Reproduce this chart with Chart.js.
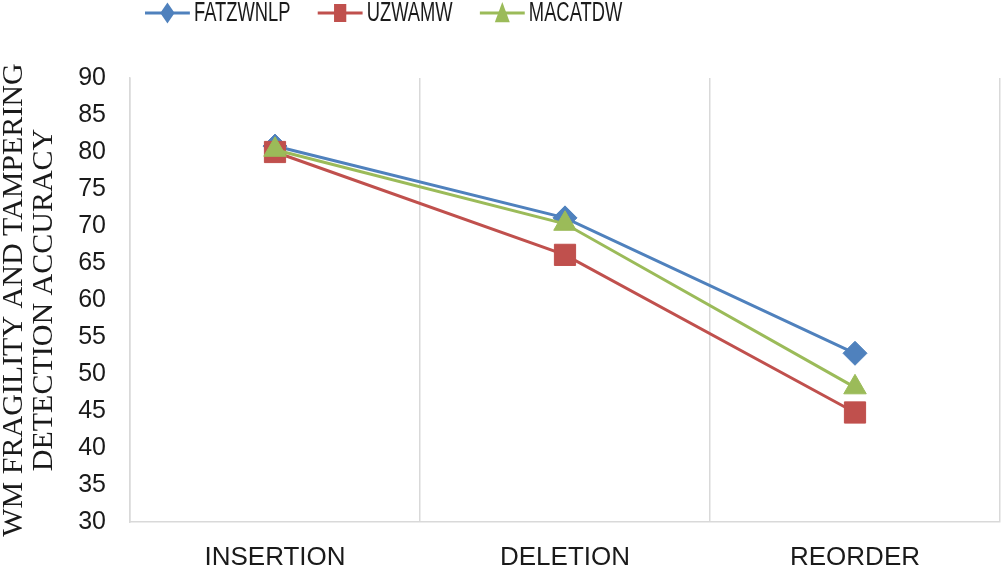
<!DOCTYPE html>
<html>
<head>
<meta charset="utf-8">
<script src="https://cdn.jsdelivr.net/npm/chart.js@4.4.1/dist/chart.umd.min.js"></script>
<style>
  html, body { margin: 0; padding: 0; background: #fff; overflow: hidden; }
  #wrap { width: 1001px; height: 571px; }
</style>
</head>
<body>
<div id="wrap"><canvas id="chart"></canvas></div>
<script>
const categories = ["INSERTION", "DELETION", "REORDER"];
const fatzwnlp = [80.8, 71.1, 52.8];
const uzwamw = [80.0, 66.1, 44.8];
const macatdw = [80.3, 70.3, 48.2];
const yTitle = ["WM FRAGILITY AND TAMPERING", "DETECTION ACCURACY"];

const BLUE = "#4f81bd", RED = "#c0504d", GREEN = "#9bbb59";
const SANS = "'Liberation Sans', Arial, sans-serif";
const TEXT = "#1a1a1a";

function marker(g, style, x, y, r) {
  g.beginPath();
  if (style === "rectRot") {
    g.moveTo(x, y - r); g.lineTo(x + r, y); g.lineTo(x, y + r); g.lineTo(x - r, y);
  } else if (style === "rect") {
    g.rect(x - r, y - r, 2 * r, 2 * r);
  } else {
    g.moveTo(x, y - r); g.lineTo(x + r, y + r * 0.85); g.lineTo(x - r, y + r * 0.85);
  }
  g.closePath(); g.fill();
}

// the reference legend is squeezed sideways: line + marker + text, drawn narrow
const lineLegend = {
  id: "lineLegend",
  afterDraw(chart) {
    const g = chart.ctx;
    const squeeze = 0.68, sw = 66, gapText = 6, gapItem = 40;
    const sizes = { rectRot: 10.5, rect: 9, triangle: 11 };
    let x = 145 / squeeze;
    const y = 13;
    g.save();
    g.scale(squeeze, 1);
    g.font = "27px " + SANS;
    g.textBaseline = "middle";
    chart.data.datasets.forEach(ds => {
      g.strokeStyle = ds.borderColor; g.fillStyle = ds.borderColor; g.lineWidth = 3;
      g.beginPath(); g.moveTo(x, y); g.lineTo(x + sw, y); g.stroke();
      marker(g, ds.pointStyle, x + sw / 2, y, sizes[ds.pointStyle]);
      x += sw + gapText;
      g.fillStyle = TEXT;
      g.fillText(ds.label, x, y + 1);
      x += g.measureText(ds.label).width + gapItem;
    });
    g.restore();
  }
};

function series(label, data, color, style, r, order) {
  return {
    label, data, order,
    borderColor: color, backgroundColor: color,
    borderWidth: 3,
    pointStyle: style, pointRadius: r, pointHoverRadius: r,
    pointBorderWidth: 1, pointBorderColor: color, pointBackgroundColor: color,
    tension: 0
  };
}

new Chart(document.getElementById("chart"), {
  type: "line",
  data: {
    labels: categories,
    datasets: [
      series("FATZWNLP", fatzwnlp, BLUE, "rectRot", 12, 3),
      series("UZWAMW", uzwamw, RED, "rect", 15, 2),
      series("MACATDW", macatdw, GREEN, "triangle", 13, 1)
    ]
  },
  plugins: [lineLegend],
  options: {
    responsive: true,
    maintainAspectRatio: false,
    animation: false,
    layout: { autoPadding: false, padding: { top: 78, right: 1, bottom: 0, left: 0 } },
    plugins: {
      tooltip: { enabled: false },
      legend: { display: false }
    },
    scales: {
      x: {
        offset: true,
        grid: { offset: true, color: "#d9d9d9", lineWidth: 1.5, drawTicks: false },
        border: { color: "#d9d9d9", width: 1.5 },
        ticks: { padding: 20, color: TEXT, font: { family: SANS, size: 26 } },
        afterFit: s => { s.height = 49; }
      },
      y: {
        min: 30, max: 90,
        grid: { display: false },
        border: { color: "#d9d9d9", width: 1.5 },
        ticks: { stepSize: 5, padding: 16, color: TEXT, font: { family: SANS, size: 25 } },
        title: {
          display: true,
          text: yTitle,
          color: TEXT,
          padding: { top: 0, bottom: 0 },
          font: { family: "'Liberation Serif', 'Times New Roman', serif", size: 30, lineHeight: 0.97 }
        },
        afterFit: s => { s.width = 130; }
      }
    }
  }
});
</script>
</body>
</html>
